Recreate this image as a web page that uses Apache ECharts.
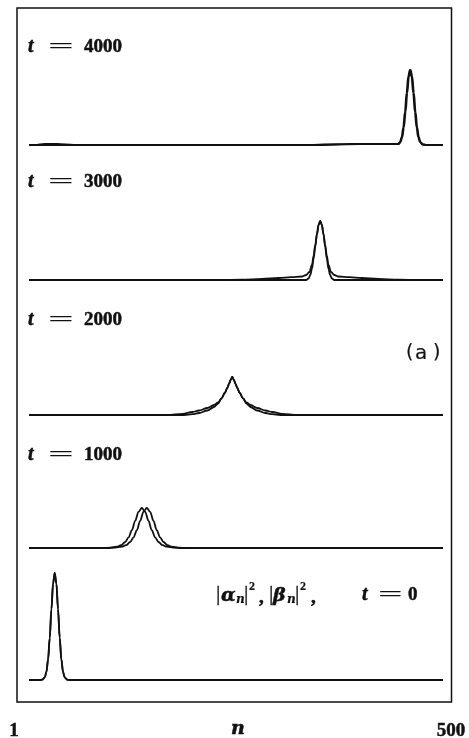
<!DOCTYPE html>
<html>
<head>
<meta charset="utf-8">
<script src="https://cdn.jsdelivr.net/npm/echarts@6/dist/echarts.min.js"></script>
<style>
  html, body { margin: 0; padding: 0; background: #fff; }
  #chart { width: 469px; height: 738px; }
</style>
</head>
<body>
<div id="chart"></div>
<script>
// Site index range along the chain
const nRange = [1, 500];
const axisTickLabels = ['1', 'n', '500'];

// Time of each panel, top to bottom
const panelTimes = [4000, 3000, 2000, 1000, 0];

// |alpha_n|^2 and |beta_n|^2 as [n, value] pairs, one pair of arrays per panel
const alphaT4000 = [[1,0],[8,0],[20,0.012],[35,0.01],[55,0],[330,0],[370,0.008],[410,0.012],[440,0.012],[446,0.012],[448,0.029],[450,0.078],[452,0.176],[454,0.33],[456,0.52],[458,0.685],[460,0.75],[462,0.685],[464,0.52],[466,0.33],[468,0.176],[470,0.078],[472,0.029],[475,0.005],[480,0],[500,0]];
const betaT4000  = [[1,0],[350,0],[400,0.008],[440,0.01],[447,0.01],[449,0.029],[451,0.078],[453,0.176],[455,0.33],[457,0.52],[459,0.685],[461,0.75],[463,0.685],[465,0.52],[467,0.33],[469,0.176],[471,0.078],[473,0.029],[476,0.005],[481,0],[500,0]];

const alphaT3000 = [[1,0],[335,0],[338,0.015],[340,0.05],[342,0.11],[344,0.21],[346,0.33],[348,0.45],[350,0.55],[352,0.59],[354,0.55],[356,0.45],[358,0.33],[360,0.21],[362,0.11],[364,0.05],[366,0.015],[369,0],[500,0]];
const betaT3000  = [[1,0],[232,0],[257,0.003],[282,0.01],[302,0.02],[317,0.028],[330,0.035],[335,0.05],[339,0.08],[342,0.15],[344,0.24],[346,0.35],[348,0.46],[350,0.55],[352,0.59],[354,0.55],[356,0.46],[358,0.35],[360,0.24],[362,0.15],[365,0.08],[369,0.05],[374,0.035],[387,0.028],[402,0.02],[422,0.01],[447,0.003],[472,0],[500,0]];

const alphaT2000 = [[1,0],[168,0],[186,0.012],[198,0.03],[206,0.045],[216,0.07],[224,0.10],[229,0.125],[233,0.165],[237,0.22],[240,0.27],[242,0.31],[244,0.35],[246,0.38],[248,0.35],[250,0.31],[252,0.27],[255,0.22],[259,0.165],[263,0.125],[268,0.10],[276,0.07],[286,0.045],[294,0.03],[306,0.012],[324,0],[500,0]];
const betaT2000  = [[1,0],[188,0],[198,0.008],[206,0.02],[216,0.045],[224,0.08],[229,0.115],[233,0.165],[237,0.22],[240,0.27],[242,0.31],[244,0.35],[246,0.38],[248,0.35],[250,0.31],[252,0.27],[255,0.22],[259,0.165],[263,0.115],[268,0.08],[276,0.045],[286,0.02],[294,0.008],[304,0],[500,0]];

const alphaT1000 = [[1,0],[89,0],[99,0.004],[107,0.013],[112,0.028],[117,0.060],[121,0.106],[125,0.178],[129,0.272],[133,0.362],[137,0.40],[141,0.362],[145,0.272],[149,0.178],[153,0.106],[157,0.060],[162,0.028],[167,0.013],[175,0.004],[185,0],[500,0]];
const betaT1000  = [[1,0],[95,0],[105,0.004],[113,0.013],[118,0.028],[123,0.060],[127,0.106],[131,0.178],[135,0.272],[139,0.362],[143,0.40],[147,0.362],[151,0.272],[155,0.178],[159,0.106],[163,0.060],[168,0.028],[173,0.013],[181,0.004],[191,0],[500,0]];

const alphaT0 = [[1,0],[14,0],[17,0.003],[20,0.026],[22,0.081],[24,0.205],[26,0.422],[28,0.708],[30,0.965],[32,1.07],[34,0.965],[36,0.708],[38,0.422],[40,0.205],[42,0.081],[44,0.026],[47,0.003],[50,0],[500,0]];
const betaT0  = [[1,0],[14,0],[17,0.003],[20,0.026],[22,0.081],[24,0.205],[26,0.422],[28,0.708],[30,0.965],[32,1.07],[34,0.965],[36,0.708],[38,0.422],[40,0.205],[42,0.081],[44,0.026],[47,0.003],[50,0],[500,0]];

const panelSeries = [
  [alphaT4000, betaT4000],
  [alphaT3000, betaT3000],
  [alphaT2000, betaT2000],
  [alphaT1000, betaT1000],
  [alphaT0, betaT0]
];

// Layout
const plotLeft = 29, plotWidth = 414;
const baselines = [145, 280, 415, 548, 680];
const panelHeight = 112;
const yMax = 1.12;

const SERIF = '"Liberation Serif", "Times New Roman", serif';
const DSERIF = '"DejaVu Serif", serif';
const INK = '#111';

const grids = [], xAxes = [], yAxes = [], series = [];
baselines.forEach((b, i) => {
  grids.push({ left: plotLeft, width: plotWidth, top: b - panelHeight, height: panelHeight });
  xAxes.push({ type: 'value', gridIndex: i, min: nRange[0], max: nRange[1], show: false });
  yAxes.push({ type: 'value', gridIndex: i, min: 0, max: yMax, show: false });
  panelSeries[i].forEach((data, k) => {
    series.push({
      type: 'line',
      name: (k === 0 ? 'alpha' : 'beta') + ' t=' + panelTimes[i],
      xAxisIndex: i, yAxisIndex: i,
      data: data,
      showSymbol: false,
      smooth: 0.35,
      smoothMonotone: 'x',
      lineStyle: { color: INK, width: 1.8 },
      silent: true
    });
  });
});

// Text pieces (slightly stroked to give the heavy print weight)
function txt(text, x, y, opts) {
  opts = opts || {};
  return {
    type: 'text', x: x, y: y,
    scaleX: opts.scaleX || 1,
    style: {
      text: text,
      font: opts.font || ('bold 19px ' + SERIF),
      fill: INK,
      stroke: INK,
      lineWidth: opts.weight == null ? 0.5 : opts.weight,
      align: opts.align || 'left',
      verticalAlign: 'middle'
    },
    silent: true
  };
}

function timeLabel(t, y) {
  return [
    txt('t', 28, y, { font: 'italic bold 20px ' + SERIF }),
    txt('=', 48, y, { scaleX: 2.4, weight: 0 }),
    txt(String(t), 84, y)
  ];
}

const labelY = [47, 182, 320, 455];
let texts = [];
panelTimes.slice(0, 4).forEach((t, i) => { texts = texts.concat(timeLabel(t, labelY[i])); });

// |alpha_n|^2 , |beta_n|^2 ,  t = 0
const ly = 595;
const greek = 'italic bold 19px ' + DSERIF;
const sub = 'italic bold 12px ' + DSERIF;
const sup = 'bold 12px ' + SERIF;
const bar = '22px ' + SERIF;
texts = texts.concat([
  txt('|', 216, ly - 1, { font: bar, weight: 0.3 }),
  txt('α', 221, ly + 1, { font: greek }),
  txt('n', 236, ly + 5, { font: sub, weight: 0.2 }),
  txt('|', 244, ly - 1, { font: bar, weight: 0.3 }),
  txt('2', 249, ly - 8, { font: sup, weight: 0.2 }),
  txt(',', 259, ly + 3),
  txt('|', 269, ly - 1, { font: bar, weight: 0.3 }),
  txt('β', 273, ly + 1, { font: greek }),
  txt('n', 287, ly + 5, { font: sub, weight: 0.2 }),
  txt('|', 295, ly - 1, { font: bar, weight: 0.3 }),
  txt('2', 300, ly - 8, { font: sup, weight: 0.2 }),
  txt(',', 311, ly + 3),
  txt('t', 362, ly, { font: 'italic bold 20px ' + SERIF }),
  txt('=', 378, ly, { scaleX: 2.3, weight: 0 }),
  txt('0', 408, ly)
]);

// (a)
texts = texts.concat([
  txt('(', 406, 353, { font: '19px "DejaVu Sans", sans-serif', weight: 0.2 }),
  txt('a', 415, 354, { font: '20px "DejaVu Sans", sans-serif', weight: 0.2 }),
  txt(')', 433, 353, { font: '19px "DejaVu Sans", sans-serif', weight: 0.2 })
]);

// Axis end labels below the frame
texts = texts.concat([
  txt(axisTickLabels[0], 14, 731, { align: 'center' }),
  txt(axisTickLabels[1], 238, 729, { align: 'center', font: 'italic bold 19px ' + DSERIF }),
  txt(axisTickLabels[2], 451, 731, { align: 'center' })
]);

// Outer frame
const frame = {
  type: 'rect',
  shape: { x: 17, y: 8, width: 434.5, height: 694 },
  style: { fill: 'none', stroke: INK, lineWidth: 1.5 },
  silent: true
};

const chart = echarts.init(document.getElementById('chart'), null, { renderer: 'canvas' });
chart.setOption({
  animation: false,
  backgroundColor: '#fff',
  grid: grids,
  xAxis: xAxes,
  yAxis: yAxes,
  series: series,
  graphic: [frame].concat(texts)
});
</script>
</body>
</html>
